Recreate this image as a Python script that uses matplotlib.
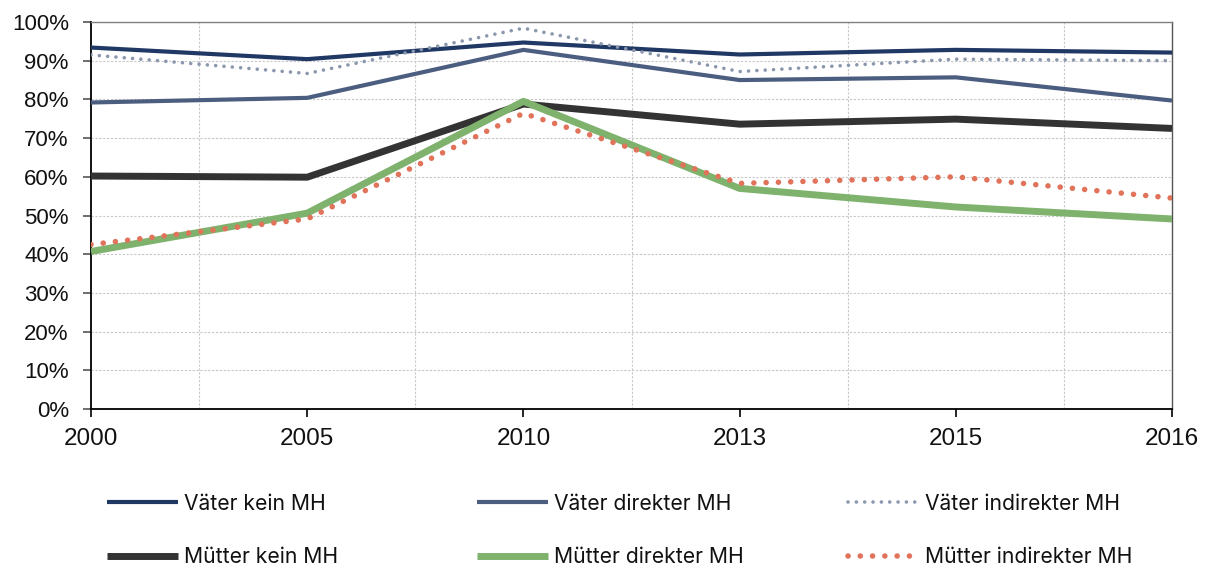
import matplotlib
matplotlib.use("Agg")
import matplotlib.pyplot as plt
from matplotlib.ticker import FixedLocator, FuncFormatter

years = ["2000", "2005", "2010", "2013", "2015", "2016"]
vaeter_kein = [93.4, 90.4, 94.7, 91.6, 92.8, 92.1]
vaeter_direkt = [79.2, 80.4, 92.8, 85.0, 85.7, 79.7]
vaeter_indirekt = [91.5, 86.7, 98.4, 87.2, 90.4, 90.0]
muetter_kein = [60.2, 59.9, 78.8, 73.6, 74.9, 72.5]
muetter_direkt = [40.7, 50.6, 79.5, 57.0, 52.2, 49.1]
muetter_indirekt = [42.5, 49.1, 76.4, 58.3, 60.0, 54.5]

labels = ["Väter kein MH", "Väter direkter MH", "Väter indirekter MH",
          "Mütter kein MH", "Mütter direkter MH", "Mütter indirekter MH"]

W, H = 1209, 570
fig = plt.figure(figsize=(W / 100, H / 100), dpi=100)
ax = fig.add_axes([91 / W, 1 - 409 / H, (1172 - 91) / W, (409 - 22) / H])

x = list(range(len(years)))
styles = [
    dict(data=vaeter_kein, color="#1f3864", lw=3.0, ls="-"),
    dict(data=vaeter_direkt, color="#4b5e80", lw=3.0, ls="-"),
    dict(data=vaeter_indirekt, color="#8a97ad", lw=2.6, ls=(0, (0.01, 2.3))),
    dict(data=muetter_kein, color="#333333", lw=5.0, ls="-"),
    dict(data=muetter_direkt, color="#7fb26c", lw=5.0, ls="-"),
    dict(data=muetter_indirekt, color="#e0735a", lw=4.0, ls=(0, (0.01, 2.2))),
]
lines = []
for s, lab in zip(styles, labels):
    ln, = ax.plot(x, s["data"], color=s["color"], lw=s["lw"], linestyle=s["ls"],
                  dash_capstyle="round", solid_capstyle="butt", label=lab, zorder=3)
    lines.append(ln)

ax.set_xlim(0, len(years) - 1)
ax.set_ylim(0, 100)
ax.xaxis.set_major_locator(FixedLocator(x))
ax.set_xticklabels(years)
ax.xaxis.set_minor_locator(FixedLocator([i + 0.5 for i in range(len(years) - 1)]))
ax.yaxis.set_major_locator(FixedLocator(range(0, 101, 10)))
ax.yaxis.set_major_formatter(FuncFormatter(lambda v, p: f"{int(v)}%"))

fam = ["Liberation Sans", "DejaVu Sans"]
for lab in ax.get_xticklabels():
    lab.set_fontfamily(fam)
    lab.set_fontsize(17.5)
    lab.set_color("#111111")
for lab in ax.get_yticklabels():
    lab.set_fontfamily(fam)
    lab.set_fontsize(16)
    lab.set_color("#111111")

ax.tick_params(axis="x", which="major", direction="out", length=6, width=1.2, pad=8, color="black")
ax.tick_params(axis="x", which="minor", length=0)
ax.tick_params(axis="y", direction="out", length=6, width=1.2, pad=10, color="#555555")

ax.grid(True, axis="y", which="major", color="#c8c8c8", lw=0.8, linestyle=(0, (2, 1.5)), zorder=0)
ax.grid(True, axis="x", which="minor", color="#c8c8c8", lw=0.8, linestyle=(0, (2, 1.5)), zorder=0)
ax.set_axisbelow(True)

ax.spines["left"].set_color("black")
ax.spines["left"].set_linewidth(1.3)
ax.spines["bottom"].set_color("black")
ax.spines["bottom"].set_linewidth(1.3)
ax.spines["top"].set_color("#808080")
ax.spines["top"].set_linewidth(1.0)
ax.spines["right"].set_color("#555555")
ax.spines["right"].set_linewidth(1.0)

leg_font = dict(family=["Inter", "DejaVu Sans"], size=15.2)
col_x = [107, 477, 848]
groups = [(0, 3), (1, 4), (2, 5)]
for cx, (a, b) in zip(col_x, groups):
    leg = fig.legend([lines[a], lines[b]], [labels[a], labels[b]],
                     loc="center left", bbox_to_anchor=(cx / W, 1 - 530.5 / H),
                     frameon=False, borderpad=0, borderaxespad=0,
                     handlelength=3.35, handletextpad=0.28, labelspacing=1.6,
                     prop=leg_font)
    for t in leg.get_texts():
        t.set_color("#111111")

fig.savefig("out.png", dpi=100)
